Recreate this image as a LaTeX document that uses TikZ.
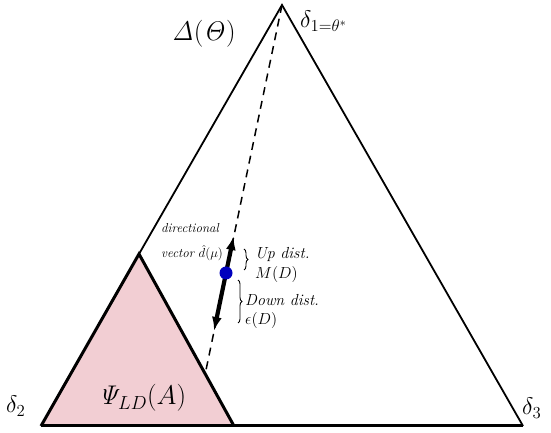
\documentclass[tikz,border=0pt]{standalone}
\usepackage{fix-cm}
\usetikzlibrary{arrows.meta,decorations.pathreplacing}
\definecolor{pinkfill}{RGB}{242,206,211}
\definecolor{dotblue}{RGB}{0,0,190}
\begin{document}
\begin{tikzpicture}[x=1pt,y=1pt,
  thinedge/.style={line width=1.8pt,line join=miter},
  thickedge/.style={line width=3pt,line join=miter},
  dashline/.style={line width=1.5pt,dash pattern=on 8pt off 6pt},
  bigmath/.style={font=\fontsize{27}{32}\selectfont,inner sep=0pt},
  vertexlbl/.style={font=\fontsize{24}{29}\selectfont,inner sep=0pt,anchor=base west},
  smalllbl/.style={font=\fontsize{13}{15}\selectfont\itshape,inner sep=0pt,anchor=base west},
  midlbl/.style={font=\fontsize{16}{19}\selectfont\itshape,inner sep=0pt,anchor=base west},
  bracestyle/.style={line width=0.9pt,decorate,decoration={brace,amplitude=4pt}}]
\useasboundingbox (0,0) rectangle (551,433);
% vertices
\coordinate (top) at (282,428);
\coordinate (left) at (41,7);
\coordinate (right) at (523,7);
\coordinate (papex) at (139,179);
\coordinate (pright) at (234,7);
\coordinate (dashend) at (206,63);
\coordinate (arrlow) at (214,102);
\coordinate (arrhigh) at (233.7,197);
% pink region
\fill[pinkfill] (left) -- (papex) -- (pright) -- cycle;
% big simplex
\draw[thinedge] (papex) -- (top) -- (right);
\draw[thickedge] (left) -- (right);
\draw[thickedge] (left) -- (papex) -- (pright);
% dashed direction line
\draw[dashline] (top) -- (dashend);
% double arrow
\draw[line width=4.2pt,{Latex[length=14pt,width=10pt]}-{Latex[length=14pt,width=10pt]}] (arrlow) -- (arrhigh);
\node[circle,fill=dotblue,minimum size=13pt,inner sep=0pt] (mu) at (226,160) {};
% braces
\draw[bracestyle] (244,184) -- (244,163);
\draw[bracestyle] (238,153) -- (238,110);
% labels
\node[bigmath] (simplex) at (204,399) {$\mathit{\Delta}(\mathit{\Theta})$};
\node[vertexlbl] (d1) at (300,405) {$\delta_{1=\theta^*}$};
\node[vertexlbl] (d2) at (6,20) {$\delta_2$};
\node[vertexlbl] (d3) at (522,18) {$\delta_3$};
\node[bigmath,anchor=base] (psi) at (142,28) {$\mathit{\Psi}_{LD}(A)$};
\node[smalllbl] (dirA) at (161,200) {directional};
\node[smalllbl] (dirB) at (161,175) {vector $\hat{d}(\mu)$};
\node[midlbl] (up1) at (255,174) {Up dist.};
\node[midlbl] (up2) at (255,154) {$M(D)$};
\node[midlbl] (dn1) at (245,127) {Down dist.};
\node[midlbl] (dn2) at (245,108) {$\epsilon(D)$};
\end{tikzpicture}
\end{document}
